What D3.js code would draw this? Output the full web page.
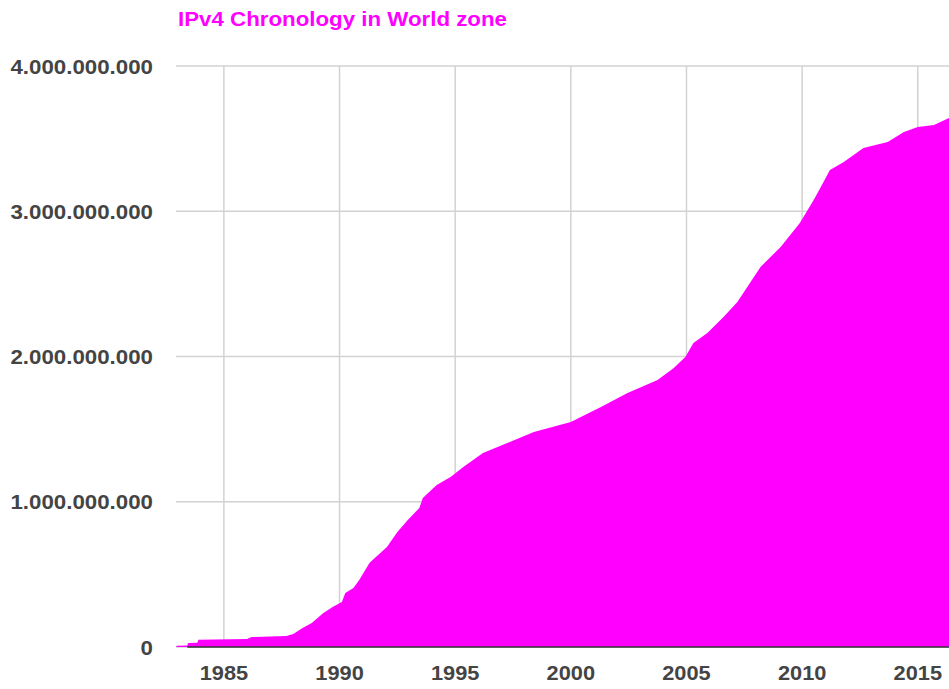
<!DOCTYPE html>
<html>
<head>
<meta charset="utf-8">
<script src="https://cdn.jsdelivr.net/npm/d3@7"></script>
<style>
  html, body { margin: 0; padding: 0; background: #ffffff; }
  svg { display: block; }
  text { font-family: Arial, "Liberation Sans", Helvetica, sans-serif; font-weight: bold; }
</style>
</head>
<body>
<svg id="chart" width="949" height="689"></svg>
<script>
// Cumulative allocated IPv4 addresses, world zone (decimal year, millions of addresses)
const years = [
  1982.95, 1983.42, 1983.45, 1983.85, 1983.9, 1986.0, 1986.2, 1987.7, 1988.0, 1988.4,
  1988.8, 1989.3, 1989.7, 1990.1, 1990.25, 1990.6, 1990.85, 1991.3, 1991.5, 1992.05,
  1992.5, 1992.95, 1993.45, 1993.6, 1994.2, 1994.8, 1995.35, 1996.2, 1997.25, 1998.4,
  2000.0, 2001.3, 2002.45, 2003.75, 2004.45, 2004.95, 2005.3, 2005.9, 2006.6, 2007.2,
  2008.2, 2009.07, 2009.9, 2010.5, 2010.9, 2011.2, 2011.8, 2012.65, 2013.7, 2014.4,
  2015.0, 2015.7, 2016.35
];
const addressesMillions = [
  8, 10, 28, 30, 50, 55, 68, 75, 90, 130,
  165, 234, 275, 310, 372, 406, 461, 580, 610, 688,
  792, 874, 957, 1026, 1115, 1170, 1239, 1336, 1404, 1480,
  1549, 1652, 1749, 1838, 1921, 1997, 2093, 2162, 2272, 2375,
  2616, 2754, 2919, 3077, 3194, 3284, 3339, 3435, 3477, 3546,
  3580, 3594, 3642
];
const yTicks = [0, 1e9, 2e9, 3e9, 4e9];
const yTickLabels = ["0", "1.000.000.000", "2.000.000.000", "3.000.000.000", "4.000.000.000"];
const xTicks = [1985, 1990, 1995, 2000, 2005, 2010, 2015];
const xTickLabels = ["1985", "1990", "1995", "2000", "2005", "2010", "2015"];
const titleText = "IPv4 Chronology in World zone";

const data = years.map((y, i) => ({ year: y, value: addressesMillions[i] * 1e6 }));

const svg = d3.select("#chart");
const plot = { left: 176, right: 949, top: 66, bottom: 647 };
const stretch = 1.09; // labels are drawn slightly wide

const x = d3.scaleLinear().domain([1982.93, 2016.35]).range([plot.left, plot.right]);
const y = d3.scaleLinear().domain([0, 4e9]).range([plot.bottom, plot.top]);

// Title
svg.append("text")
  .attr("transform", `translate(178,26) scale(${stretch + 0.025},1)`)
  .attr("fill", "#ff00ff")
  .attr("font-size", 20)
  .text(titleText);

// Horizontal gridlines
svg.append("g")
  .selectAll("line")
  .data(yTicks)
  .join("line")
  .attr("x1", plot.left).attr("x2", plot.right)
  .attr("y1", d => y(d)).attr("y2", d => y(d))
  .attr("stroke", "#d2d2d2").attr("stroke-width", 1.5);

// Vertical gridlines
svg.append("g")
  .selectAll("line")
  .data(xTicks)
  .join("line")
  .attr("x1", d => x(d)).attr("x2", d => x(d))
  .attr("y1", plot.top).attr("y2", plot.bottom)
  .attr("stroke", "#d2d2d2").attr("stroke-width", 1.5);

// Area
const area = d3.area()
  .x(d => x(d.year))
  .y0(y(0))
  .y1(d => y(d.value))
  .curve(d3.curveLinear);

svg.append("path")
  .datum(data)
  .attr("d", area)
  .attr("fill", "#ff00ff");

// Zero baseline
svg.append("line")
  .attr("x1", x(years[1])).attr("x2", plot.right)
  .attr("y1", y(0)).attr("y2", y(0))
  .attr("stroke", "#333333").attr("stroke-width", 1.5);

// Y axis labels
const yAxis = d3.axisLeft(y).tickValues(yTicks).tickSize(0)
  .tickFormat((d, i) => yTickLabels[i]);
const gy = svg.append("g").attr("transform", "translate(153,0)").call(yAxis);
gy.select(".domain").remove();
gy.selectAll("text")
  .attr("x", 0)
  .attr("dy", "0.35em")
  .attr("fill", "#444444")
  .attr("font-size", 20)
  .attr("font-family", "Arial, 'Liberation Sans', sans-serif")
  .attr("font-weight", "bold")
  .attr("text-anchor", "end")
  .attr("transform", `scale(${stretch + 0.025},1)`);

// X axis labels
const xAxis = d3.axisBottom(x).tickValues(xTicks).tickSize(0)
  .tickFormat((d, i) => xTickLabels[i]);
const gx = svg.append("g").attr("transform", `translate(0,${plot.bottom})`).call(xAxis);
gx.select(".domain").remove();
gx.selectAll("text")
  .attr("y", 0)
  .attr("dy", "33px")
  .attr("fill", "#444444")
  .attr("font-size", 20)
  .attr("font-family", "Arial, 'Liberation Sans', sans-serif")
  .attr("font-weight", "bold")
  .attr("text-anchor", "middle")
  .attr("transform", `scale(${stretch},1)`);
// keep x labels centred on their ticks after the horizontal stretch
gx.selectAll(".tick").each(function(d) {
  d3.select(this).attr("transform", `translate(${x(d)},0)`);
});
</script>
</body>
</html>
